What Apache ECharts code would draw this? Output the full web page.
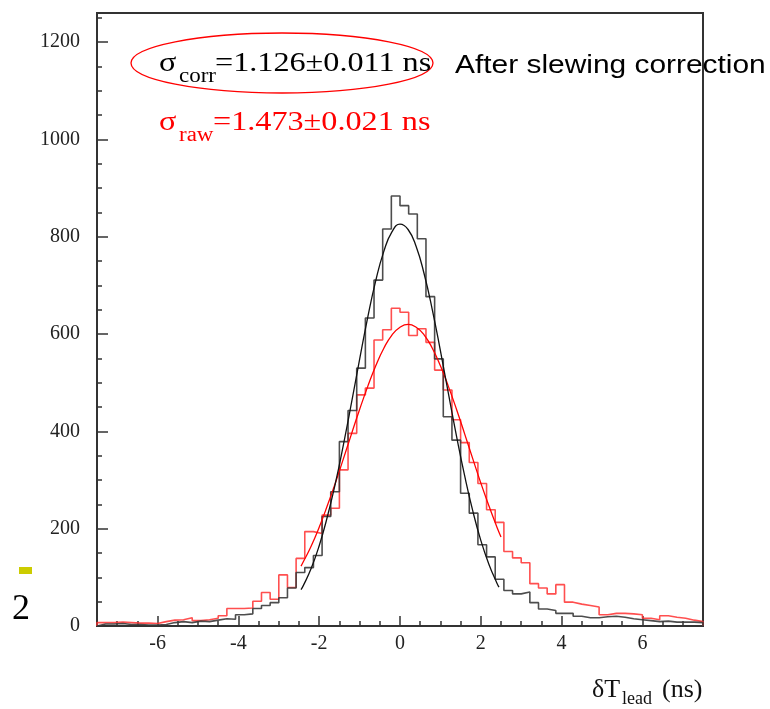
<!DOCTYPE html>
<html>
<head>
<meta charset="utf-8">
<script src="https://cdn.jsdelivr.net/npm/echarts@6/dist/echarts.min.js"></script>
<style>
html,body{margin:0;padding:0;background:#fff;}
#chart{width:770px;height:709px;}
</style>
</head>
<body>
<div id="chart"></div>
<script>
// ---- Data ----
const binMin = -7.5;
const binMax = 7.5;
// 70 bins of width 15/70 ns
const corrCounts = [4,4,5,3,3,2,2,3,7,9, 7,10,9,12,15,14,23,25,36,42,
  48,58,78,110,120,145,225,276,379,443, 530,633,711,816,884,864,847,796,677,549,
  430,382,273,232,167,142,96,73,66,70, 48,35,32,26,26,20,17,17,19,20,
  18,15,13,11,9,10,8,8,8,7];
const rawCounts = [7,7,8,7,6,6,5,9,12,13, 17,11,13,16,21,36,36,37,51,69,
  55,105,79,139,194,190,228,242,321,396, 475,489,588,609,653,645,597,611,583,526,
  485,424,377,336,293,239,213,153,140,130, 87,78,66,85,49,45,42,39,23,26,
  26,25,23,16,13,21,18,16,12,9];
const corrFitX = [-2.45,-2.4,-2.2,-2.0,-1.8,-1.6,-1.4,-1.2,-1.0,-0.8,-0.6,-0.4,-0.2,0.0,0.2,0.4,0.6,0.8,1.0,1.2,1.4,1.6,1.8,2.0,2.2,2.4,2.45];
const corrFitY = [75,82,118,165,224,293,373,459,548,634,710,770,810,826,815,780,723,650,566,477,390,309,237,176,127,88,80];
const rawFitX = [-2.45,-2.4,-2.2,-2.0,-1.8,-1.6,-1.4,-1.2,-1.0,-0.8,-0.6,-0.4,-0.2,0.0,0.2,0.4,0.6,0.8,1.0,1.2,1.4,1.6,1.8,2.0,2.2,2.4,2.5];
const rawFitY = [123,131,164,203,247,294,344,395,445,492,535,571,598,614,620,614,598,571,535,492,445,395,344,294,247,203,183];
// Axis ticks
const xMajorTicks = [-6,-4,-2,0,2,4,6];
const xMinorTicks = [-7,-6.5,-5.5,-5,-4.5,-3.5,-3,-2.5,-1.5,-1,-0.5,0.5,1,1.5,2.5,3,3.5,4.5,5,5.5,6.5,7];
const yMajorTicks = [0,200,400,600,800,1000,1200];
const yMinorTicks = [50,100,150,250,300,350,450,500,550,650,700,750,850,900,950,1050,1100,1150,1250];
const yMax = 1260;

function histPoints(counts){
  const w = (binMax - binMin) / counts.length;
  const pts = [[binMin, 0]];
  counts.forEach((c, i) => pts.push([binMin + i * w, c]));
  pts.push([binMax, counts[counts.length - 1]]);
  pts.push([binMax, 0]);
  return pts;
}
function zip(xs, ys){ return xs.map((x, i) => [x, ys[i]]); }

const SERIF = '"Liberation Serif","Times New Roman",serif';
const SANS = '"Liberation Sans",Arial,sans-serif';
const AX = '#333';
const SX = 1.15;

const chart = echarts.init(document.getElementById('chart'), null, {renderer:'canvas'});
const baseX = {type:'value', min:binMin, max:binMax, splitLine:{show:false}};
const baseY = {type:'value', min:0, max:yMax, splitLine:{show:false}};
chart.setOption({
  animation:false,
  backgroundColor:'#fff',
  grid:{left:97, right:67, top:13, bottom:83, show:true, borderColor:AX, borderWidth:2, backgroundColor:'transparent'},
  xAxis:[
    Object.assign({}, baseX, {
      position:'bottom',
      axisLine:{show:true, onZero:false, lineStyle:{color:AX, width:2}},
      axisTick:{show:true, inside:true, length:10, customValues:xMajorTicks, lineStyle:{color:AX, width:1.5}},
      axisLabel:{show:true, customValues:xMajorTicks, fontFamily:SERIF, fontSize:20, color:'#222', margin:8,
        formatter:v => String(v)}
    }),
    Object.assign({}, baseX, {
      position:'bottom',
      axisLine:{show:false, onZero:false},
      axisTick:{show:true, inside:true, length:5, customValues:xMinorTicks, lineStyle:{color:AX, width:1.5}},
      axisLabel:{show:false}
    })
  ],
  yAxis:[
    Object.assign({}, baseY, {
      position:'left',
      axisLine:{show:true, onZero:false, lineStyle:{color:AX, width:2}},
      axisTick:{show:true, inside:true, length:11, customValues:yMajorTicks, lineStyle:{color:AX, width:1.5}},
      axisLabel:{show:true, customValues:yMajorTicks, fontFamily:SERIF, fontSize:20, color:'#222', margin:17,
        formatter:v => String(v)}
    }),
    Object.assign({}, baseY, {
      position:'left',
      axisLine:{show:false, onZero:false},
      axisTick:{show:true, inside:true, length:5, customValues:yMinorTicks, lineStyle:{color:AX, width:1.5}},
      axisLabel:{show:false}
    })
  ],
  series:[
    {type:'line', name:'raw', data:histPoints(rawCounts), step:'end', showSymbol:false, symbol:'none',
     lineStyle:{color:'#ff3030', width:1.6, opacity:0.85}, z:2},
    {type:'line', name:'corr', data:histPoints(corrCounts), step:'end', showSymbol:false, symbol:'none',
     lineStyle:{color:'#3a3a3a', width:1.6, opacity:0.9}, z:3},
    {type:'line', name:'rawFit', data:zip(rawFitX, rawFitY), smooth:true, showSymbol:false, symbol:'none',
     lineStyle:{color:'#ff0000', width:1.3}, z:4},
    {type:'line', name:'corrFit', data:zip(corrFitX, corrFitY), smooth:true, showSymbol:false, symbol:'none',
     lineStyle:{color:'#111', width:1.3}, z:5}
  ],
  graphic:[
    {type:'ellipse', shape:{cx:282, cy:63, rx:151, ry:30}, style:{fill:'none', stroke:'#ff0000', lineWidth:1.3}, z:10},
    {type:'text', x:159, y:64, scaleX:SX, style:{text:'σ', font:'28px '+SERIF, fill:'#000', verticalAlign:'middle'}, z:11},
    {type:'text', x:179, y:77, scaleX:SX, style:{text:'corr', font:'20px '+SERIF, fill:'#000', verticalAlign:'middle'}, z:11},
    {type:'text', x:215, y:64, scaleX:SX, style:{text:'=1.126±0.011 ns', font:'28px '+SERIF, fill:'#000', verticalAlign:'middle'}, z:11},
    {type:'text', x:159, y:123, scaleX:SX, style:{text:'σ', font:'28px '+SERIF, fill:'#ff0000', verticalAlign:'middle'}, z:11},
    {type:'text', x:179, y:136, scaleX:SX, style:{text:'raw', font:'20px '+SERIF, fill:'#ff0000', verticalAlign:'middle'}, z:11},
    {type:'text', x:213, y:123, scaleX:SX, style:{text:'=1.473±0.021 ns', font:'28px '+SERIF, fill:'#ff0000', verticalAlign:'middle'}, z:11},
    {type:'text', x:455, y:66, scaleX:SX, style:{text:'After slewing correction', font:'26px '+SANS, fill:'#000', verticalAlign:'middle'}, z:11},
    {type:'text', x:592, y:690, style:{text:'δT', font:'26px '+SERIF, fill:'#111', verticalAlign:'middle'}, z:11},
    {type:'text', x:622, y:699, style:{text:'lead', font:'18px '+SERIF, fill:'#111', verticalAlign:'middle'}, z:11},
    {type:'text', x:662, y:690, style:{text:'(ns)', font:'26px '+SERIF, fill:'#111', verticalAlign:'middle'}, z:11},
    {type:'rect', shape:{x:19, y:567, width:13, height:7}, style:{fill:'#cccc00'}, z:11},
    {type:'text', x:12, y:610, style:{text:'2', font:'36px '+SERIF, fill:'#000', verticalAlign:'middle'}, z:11}
  ]
});
</script>
</body>
</html>
